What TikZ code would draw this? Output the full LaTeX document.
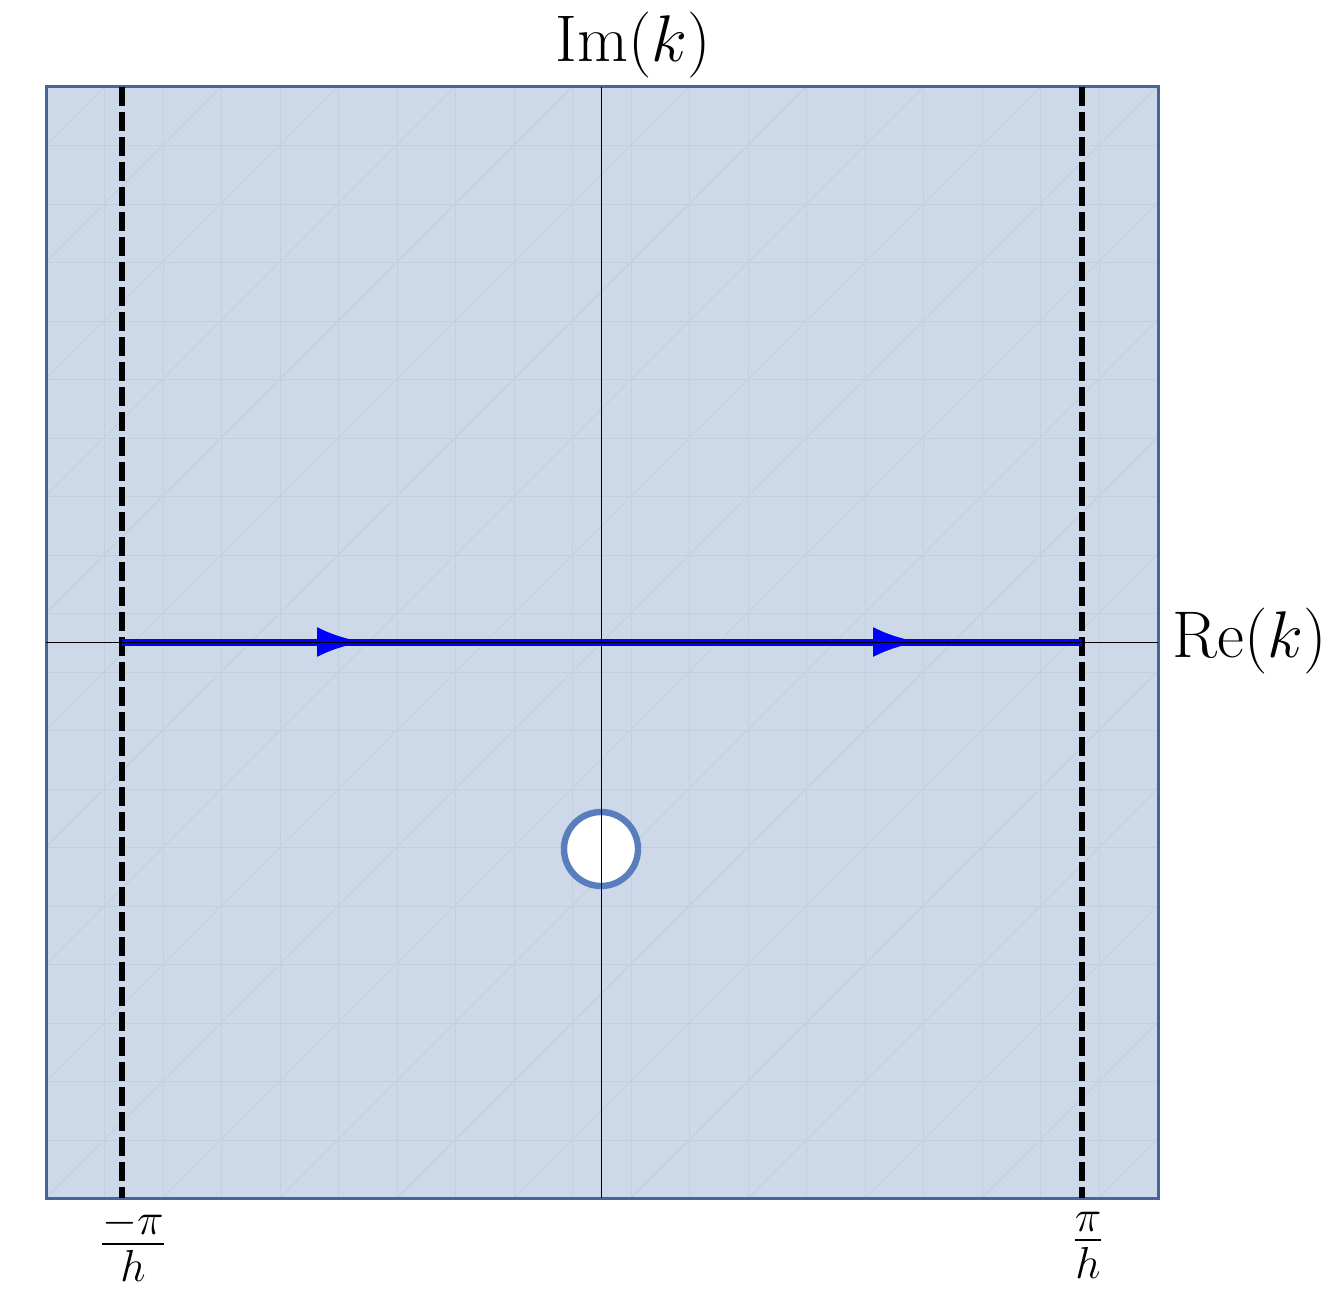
\RequirePackage{fix-cm}
\documentclass[tikz,border=0pt]{standalone}
\usepackage{amsmath}
\usetikzlibrary{arrows.meta}
\definecolor{regionfill}{HTML}{CDD8E8}
\definecolor{regionedge}{HTML}{46659B}
\definecolor{meshline}{HTML}{C3CFE0}
\definecolor{holeedge}{HTML}{5A7DBD}
\tikzset{
  axisline/.style={black, line width=0.5pt},
  branchcut/.style={black, line width=3pt, dash pattern=on 9.5pt off 3pt},
  contour/.style={blue, line width=3.5pt},
  contourarrow/.style={-{Latex[length=23pt,width=15pt]}, blue, line width=3.5pt},
  biglabel/.style={inner sep=0pt, font=\fontsize{33}{40}\selectfont},
  fraclabel/.style={inner sep=0pt, font=\fontsize{32}{38}\selectfont}
}
\begin{document}
\begin{tikzpicture}[x=0.5pt,y=-0.5pt]
\useasboundingbox (0,0) rectangle (1343,1289);
% region
\fill[regionfill] (46,87) rectangle (1158,1198);
% faint mesh
\begin{scope}
\clip (46,87) rectangle (1158,1198);
\foreach \i in {0,...,19} {
  \draw[meshline, line width=0.4pt] ({46+58.5*\i},87) -- ({46+58.5*\i},1198);
  \draw[meshline, line width=0.4pt] (46,{87+58.5*\i}) -- (1158,{87+58.5*\i});
}
\foreach \i in {-20,...,20} {
  \draw[meshline, line width=0.4pt] ({46+117*\i},1198) -- ({46+117*\i+1111},87);
}
\end{scope}
\draw[regionedge, line width=1.5pt] (46,87) rectangle (1158,1198);
% hole
\draw[holeedge, fill=white, line width=3.2pt] (601,849) circle (37);
% axes
\coordinate (xl) at (46,642);
\coordinate (xr) at (1158,642);
\coordinate (yt) at (601,87);
\coordinate (yb) at (601,1198);
% branch cuts
\coordinate (lt) at (122,87);
\coordinate (lb) at (122,1198);
\coordinate (rt) at (1082,87);
\coordinate (rb) at (1082,1198);
\draw[branchcut] (lt) -- (lb);
\draw[branchcut] (rt) -- (rb);
% contour
\coordinate (cl) at (122,642);
\coordinate (cr) at (1082,642);
\coordinate (a1) at (363,642);
\coordinate (a2) at (919,642);
\draw[contour] (cl) -- (cr);
\draw[contourarrow] (cl) -- (a1);
\draw[contourarrow] (a1) -- (a2);
\draw[axisline] (xl) -- (xr);
\draw[axisline] (yt) -- (yb);
% labels
\node[biglabel] (im) at (633,45) {Im$(k)$};
\node[biglabel, anchor=west] (re) at (1172,641) {Re$(k)$};
\node[fraclabel] (lm) at (133,1245) {$\frac{-\pi}{h}$};
\node[fraclabel] (lp) at (1088,1245) {$\frac{\pi}{h}$};
\end{tikzpicture}
\end{document}
